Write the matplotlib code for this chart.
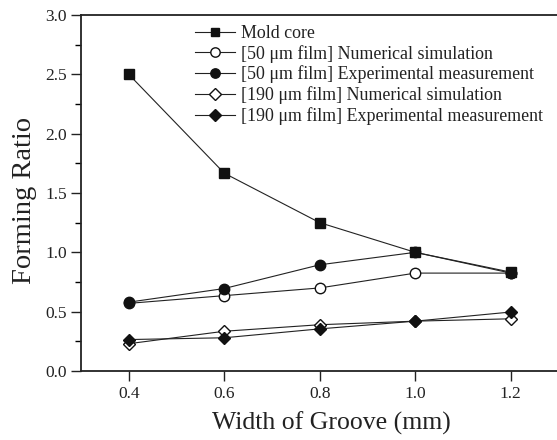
import matplotlib
matplotlib.use("Agg")
import matplotlib.pyplot as plt
from matplotlib.ticker import MultipleLocator, FormatStrFormatter

plt.rcParams['font.family'] = ['Liberation Serif', 'DejaVu Serif']

width = [0.4, 0.6, 0.8, 1.0, 1.2]
mold_core = [2.5, 1.667, 1.25, 1.0, 0.833]
sim_50 = [0.57, 0.635, 0.70, 0.825, 0.825]
exp_50 = [0.58, 0.695, 0.895, 1.0, 0.825]
sim_190 = [0.23, 0.335, 0.39, 0.42, 0.44]
exp_190 = [0.265, 0.28, 0.355, 0.42, 0.497]

labels = ['Mold core',
          '[50 μm film] Numerical simulation',
          '[50 μm film] Experimental measurement',
          '[190 μm film] Numerical simulation',
          '[190 μm film] Experimental measurement']

fig = plt.figure(figsize=(5.57, 4.40), dpi=100)
ax = fig.add_axes([81/557, 69/440, 477.5/557, 356/440])

lw = 0.8
ms = 7.5
ink = '#111111'
ax.plot(width, mold_core, color='#222222', lw=lw, marker='s', ms=ms-0.5, mfc=ink, mec=ink, label=labels[0])
ax.plot(width, sim_50, color='#222222', lw=lw, marker='o', ms=ms, mfc='white', mec=ink, label=labels[1])
ax.plot(width, exp_50, color='#222222', lw=lw, marker='o', ms=ms, mfc=ink, mec=ink, label=labels[2])
ax.plot(width, sim_190, color='#222222', lw=lw, marker='D', ms=ms-1, mfc='white', mec=ink, label=labels[3])
ax.plot(width, exp_190, color='#222222', lw=lw, marker='D', ms=ms-1, mfc=ink, mec=ink, label=labels[4])

ax.set_xlim(0.3, 1.3)
ax.set_ylim(0.0, 3.0)
ax.set_xticks(width)
ax.set_xticklabels(['0.4', '0.6', '0.8', '1.0', '1.2'])
ax.yaxis.set_major_locator(MultipleLocator(0.5))
ax.yaxis.set_minor_locator(MultipleLocator(0.25))
ax.yaxis.set_major_formatter(FormatStrFormatter('%.1f'))
ax.tick_params(axis='both', which='major', direction='out', length=7, width=1, labelsize=12.5, colors='#222222')
ax.tick_params(axis='y', which='major', pad=3)
ax.tick_params(axis='x', which='major', pad=4)
ax.tick_params(axis='y', which='minor', direction='out', length=4, width=1)
for s in ax.spines.values():
    s.set_linewidth(1.3)
    s.set_color('#222222')

ax.set_xlabel('Width of Groove (mm)', fontsize=18.5, color='#222222')
ax.set_ylabel('Forming Ratio', fontsize=20.5, color='#222222')
ax.xaxis.set_label_coords(0.5236, -0.115)
ax.yaxis.set_label_coords(-0.093, 0.48)

ax.legend(loc='upper left', bbox_to_anchor=(0.239, 0.972), frameon=False, fontsize=12.9,
          handlelength=2.25, handletextpad=0.3, borderpad=0, borderaxespad=0, labelspacing=0.16,
          labelcolor='#222222', markerscale=0.9)

fig.savefig('out.png', dpi=100)
